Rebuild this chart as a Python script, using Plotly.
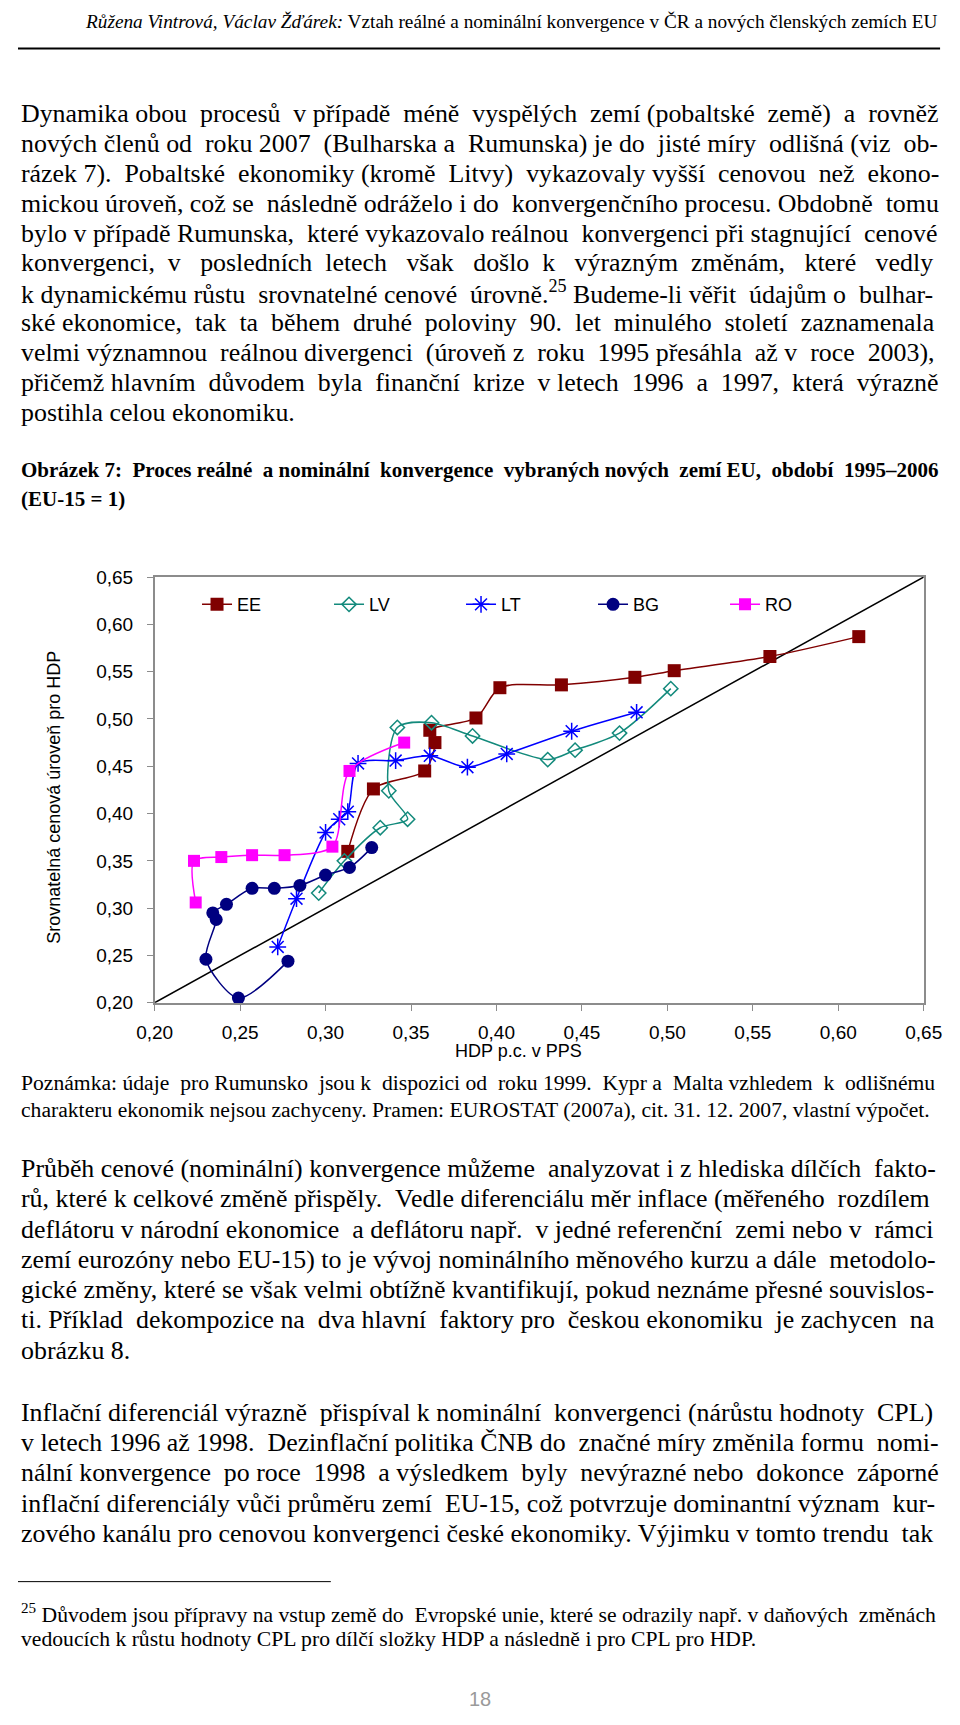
import re
import unicodedata
import plotly.graph_objects as go

# ---------------- chart data ----------------
SERIES = ["EE", "LV", "LT", "BG", "RO"]
EE_X = [0.313, 0.328, 0.358, 0.364, 0.361, 0.388, 0.402, 0.438, 0.481, 0.504, 0.560, 0.612]
EE_Y = [0.360, 0.426, 0.445, 0.475, 0.488, 0.501, 0.533, 0.536, 0.544, 0.551, 0.566, 0.587]
LV_X = [0.296, 0.311, 0.332, 0.348, 0.337, 0.342, 0.362, 0.386, 0.430, 0.446, 0.472, 0.502]
LV_Y = [0.316, 0.350, 0.385, 0.394, 0.424, 0.491, 0.496, 0.482, 0.457, 0.467, 0.485, 0.532]
LT_X = [0.272, 0.283, 0.300, 0.308, 0.313, 0.319, 0.341, 0.361, 0.383, 0.406, 0.444, 0.482]
LT_Y = [0.259, 0.310, 0.380, 0.394, 0.402, 0.453, 0.456, 0.461, 0.449, 0.463, 0.487, 0.507]
BG_X = [0.278, 0.249, 0.230, 0.236, 0.234, 0.242, 0.257, 0.270, 0.285, 0.300, 0.314, 0.327]
BG_Y = [0.244, 0.205, 0.246, 0.288, 0.295, 0.304, 0.321, 0.321, 0.324, 0.335, 0.343, 0.364]
RO_X = [0.224, 0.223, 0.239, 0.257, 0.276, 0.304, 0.314, 0.346]
RO_Y = [0.306, 0.350, 0.354, 0.356, 0.356, 0.365, 0.445, 0.475]
DIAG = [0.20, 0.65]

X_TITLE = "HDP p.c. v PPS"
Y_TITLE = "Srovnatelná cenová úroveň pro HDP"

# ---------------- page text ----------------
HEADER = "<i>Růžena Vintrová, Václav Žďárek:</i> Vztah reálné a nominální konvergence v ČR a nových členských zemích EU"
PARA1 = [
    "Dynamika obou procesů v případě méně vyspělých zemí (pobaltské země) a rovněž",
    "nových členů od roku 2007 (Bulharska a Rumunska) je do jisté míry odlišná (viz ob-",
    "rázek 7). Pobaltské ekonomiky (kromě Litvy) vykazovaly vyšší cenovou než ekono-",
    "mickou úroveň, což se následně odráželo i do konvergenčního procesu. Obdobně tomu",
    "bylo v případě Rumunska, které vykazovalo reálnou konvergenci při stagnující cenové",
    "konvergenci, v posledních letech však došlo k výrazným změnám, které vedly",
    "k dynamickému růstu srovnatelné cenové úrovně.<sup>25</sup> Budeme-li věřit údajům o bulhar-",
    "ské ekonomice, tak ta během druhé poloviny 90. let minulého století zaznamenala",
    "velmi významnou reálnou divergenci (úroveň z roku 1995 přesáhla až v roce 2003),",
    "přičemž hlavním důvodem byla finanční krize v letech 1996 a 1997, která výrazně",
    "postihla celou ekonomiku.",
]
CAPTION = [
    "Obrázek 7: Proces reálné a nominální konvergence vybraných nových zemí EU, období 1995–2006",
    "(EU-15 = 1)",
]
NOTE = [
    "Poznámka: údaje pro Rumunsko jsou k dispozici od roku 1999. Kypr a Malta vzhledem k odlišnému",
    "charakteru ekonomik nejsou zachyceny. Pramen: EUROSTAT (2007a), cit. 31. 12. 2007, vlastní výpočet.",
]
PARA2 = [
    "Průběh cenové (nominální) konvergence můžeme analyzovat i z hlediska dílčích fakto-",
    "rů, které k celkové změně přispěly. Vedle diferenciálu měr inflace (měřeného rozdílem",
    "deflátoru v národní ekonomice a deflátoru např. v jedné referenční zemi nebo v rámci",
    "zemí eurozóny nebo EU-15) to je vývoj nominálního měnového kurzu a dále metodolo-",
    "gické změny, které se však velmi obtížně kvantifikují, pokud neznáme přesné souvislos-",
    "ti. Příklad dekompozice na dva hlavní faktory pro českou ekonomiku je zachycen na",
    "obrázku 8.",
]
PARA3 = [
    "Inflační diferenciál výrazně přispíval k nominální konvergenci (nárůstu hodnoty CPL)",
    "v letech 1996 až 1998. Dezinflační politika ČNB do značné míry změnila formu nomi-",
    "nální konvergence po roce 1998 a výsledkem byly nevýrazné nebo dokonce záporné",
    "inflační diferenciály vůči průměru zemí EU-15, což potvrzuje dominantní význam kur-",
    "zového kanálu pro cenovou konvergenci české ekonomiky. Výjimku v tomto trendu tak",
]
FOOTNOTE = [
    "<sup>25</sup> Důvodem jsou přípravy na vstup země do Evropské unie, které se odrazily např. v daňových změnách",
    "vedoucích k růstu hodnoty CPL pro dílčí složky HDP a následně i pro CPL pro HDP.",
]
PAGE_NO = "18"

# ---------------- text metrics (Times-compatible) ----------------
W_REG = {' ': 250, 'a': 444, 'b': 500, 'c': 444, 'd': 500, 'e': 444, 'f': 333, 'g': 500, 'h': 500,
         'i': 278, 'j': 278, 'k': 500, 'l': 278, 'm': 778, 'n': 500, 'o': 500, 'p': 500, 'q': 500,
         'r': 333, 's': 389, 't': 278, 'u': 500, 'v': 500, 'w': 722, 'x': 500, 'y': 500, 'z': 444,
         'A': 722, 'B': 667, 'C': 667, 'D': 722, 'E': 611, 'F': 556, 'G': 722, 'H': 722, 'I': 333,
         'J': 389, 'K': 722, 'L': 611, 'M': 889, 'N': 722, 'O': 722, 'P': 556, 'Q': 722, 'R': 667,
         'S': 556, 'T': 611, 'U': 722, 'V': 722, 'W': 944, 'X': 722, 'Y': 722, 'Z': 611,
         ',': 250, '.': 250, '(': 333, ')': 333, '-': 333, ':': 278, ';': 278, '=': 564, '–': 500}
W_BOLD = {' ': 250, 'a': 500, 'b': 556, 'c': 444, 'd': 556, 'e': 444, 'f': 333, 'g': 500, 'h': 556,
          'i': 278, 'j': 333, 'k': 556, 'l': 278, 'm': 833, 'n': 556, 'o': 500, 'p': 556, 'q': 556,
          'r': 444, 's': 389, 't': 333, 'u': 556, 'v': 500, 'w': 722, 'x': 500, 'y': 500, 'z': 444,
          'A': 722, 'B': 667, 'C': 722, 'D': 722, 'E': 667, 'F': 611, 'G': 778, 'H': 778, 'I': 389,
          'J': 500, 'K': 778, 'L': 667, 'M': 944, 'N': 722, 'O': 778, 'P': 611, 'Q': 778, 'R': 722,
          'S': 556, 'T': 667, 'U': 722, 'V': 722, 'W': 1000, 'X': 722, 'Y': 722, 'Z': 667,
          ',': 250, '.': 250, '(': 333, ')': 333, '-': 333, ':': 333, ';': 333, '=': 570, '–': 500}
K = 1.04  # rendered glyphs come out slightly wider than the nominal metrics


def char_w(ch, table):
    if ch in table:
        return table[ch]
    base = unicodedata.normalize('NFD', ch)[0]
    if base in table:
        return table[base]
    return 500


def text_em(s, table):
    total = 0.0
    for p in re.split(r'(<sup>.*?</sup>|</?i>|</?b>)', s):
        if p.startswith('<sup>'):
            total += 0.7 * sum(char_w(c, table) for c in p[5:-6])
        elif p.startswith('<'):
            continue
        else:
            total += sum(char_w(c, table) for c in p)
    return K * total / 1000.0


def justify(s, fs, target, table):
    words = s.split(' ')
    gaps = len(words) - 1
    n = int((target - text_em(s, table) * fs) / (K * 0.25 * fs))
    if n <= 0 or gaps == 0:
        return s
    out = words[0]
    for i in range(gaps):
        k = n * (i + 1) // gaps - n * i // gaps
        out += ' ' + '\u00a0' * k + words[i + 1]
    return out


W, H = 960, 1725
LEFT, RIGHT = 1.0, 957.0
TARGET = RIGHT - LEFT


def px(x):
    return x / W


def py(y):
    return 1 - y / H


SERIF = "Liberation Serif, Times New Roman, serif"
SANS = "Liberation Sans, Arial, sans-serif"

annotations = []


def add_line(text, y, fs, table, justified, bold=False, color="black"):
    t = justify(text, fs, TARGET, table) if justified else text
    if bold:
        t = "<b>" + t + "</b>"
    annotations.append(dict(text=t, x=px(LEFT), y=py(y), xref="paper", yref="paper",
                            xanchor="left", yanchor="middle", showarrow=False,
                            font=dict(family=SERIF, size=fs, color=color)))


body_lines = PARA1[:-1] + PARA2[:-1] + PARA3
fs_body = min(27.0, (TARGET - 4) / max(text_em(s, W_REG) for s in body_lines))

for i, s in enumerate(PARA1):
    add_line(s, 105 + 30.2 * i, fs_body, W_REG, i < len(PARA1) - 1)
for i, s in enumerate(PARA2):
    add_line(s, 1173 + 30.6 * i, fs_body, W_REG, i < len(PARA2) - 1)
for i, s in enumerate(PARA3):
    add_line(s, 1420 + 30.5 * i, fs_body, W_REG, True)

fs_cap = min(21.0, (TARGET - 4) / text_em(CAPTION[0], W_BOLD))
add_line(CAPTION[0], 466, fs_cap, W_BOLD, True, bold=True)
add_line(CAPTION[1], 495, fs_cap, W_BOLD, False, bold=True)

fs_note = (TARGET - 4) / text_em(NOTE[1], W_REG)
add_line(NOTE[0], 1086, fs_note, W_REG, True)
add_line(NOTE[1], 1114, fs_note, W_REG, False)

fs_fn = 770 / text_em(FOOTNOTE[1], W_REG)
add_line(FOOTNOTE[0], 1623, fs_fn, W_REG, True)
add_line(FOOTNOTE[1], 1649, fs_fn, W_REG, False)

fs_head = 890 / text_em(HEADER, W_REG)
annotations.append(dict(text=HEADER, x=px(957), y=py(12), xref="paper", yref="paper",
                        xanchor="right", yanchor="middle", showarrow=False,
                        font=dict(family=SERIF, size=fs_head, color="black")))

annotations.append(dict(text=PAGE_NO, x=px(480), y=py(1710), xref="paper", yref="paper",
                        xanchor="center", yanchor="middle", showarrow=False,
                        font=dict(family=SANS, size=20, color="#9a9a9a")))

annotations.append(dict(text=X_TITLE, x=px(520), y=py(1054), xref="paper", yref="paper",
                        xanchor="center", yanchor="middle", showarrow=False,
                        font=dict(family=SANS, size=18, color="black")))
annotations.append(dict(text=Y_TITLE, x=px(38), y=py(797), xref="paper", yref="paper",
                        xanchor="center", yanchor="middle", showarrow=False, textangle=-90,
                        font=dict(family=SANS, size=18, color="black")))

# ---------------- figure ----------------
fig = go.Figure()
fig.add_trace(go.Scatter(x=DIAG, y=DIAG, mode="lines", line=dict(color="black", width=1.5),
                         showlegend=False, hoverinfo="skip", cliponaxis=False))

styles = {
    "EE": dict(color="#800000", marker=dict(symbol="square", size=13, color="#800000")),
    "LV": dict(color="#138a7c", marker=dict(symbol="diamond-open", size=11, color="#138a7c",
                                             line=dict(width=1.5))),
    "LT": dict(color="#0000ff", marker=dict(symbol="asterisk-open", size=14, color="#0000ff",
                                             line=dict(width=1.5))),
    "BG": dict(color="#000080", marker=dict(symbol="circle", size=13, color="#000080")),
    "RO": dict(color="#ff00ff", marker=dict(symbol="square", size=12, color="#ff00ff")),
}
data = {"EE": (EE_X, EE_Y), "LV": (LV_X, LV_Y), "LT": (LT_X, LT_Y),
        "BG": (BG_X, BG_Y), "RO": (RO_X, RO_Y)}

for name in SERIES:
    xs, ys = data[name]
    st = styles[name]
    fig.add_trace(go.Scatter(x=xs, y=ys, name=name, mode="lines+markers",
                             line=dict(color=st["color"], width=1.5, shape="spline", smoothing=0.8),
                             marker=st["marker"], cliponaxis=False))

axis_common = dict(range=[0.2, 0.65], tick0=0.2, dtick=0.05, tickformat=".2f",
                   showgrid=False, zeroline=False, showline=True, linecolor="#8c8c8c",
                   linewidth=1.5, mirror=True, ticks="outside", ticklen=6, tickcolor="#8c8c8c",
                   tickfont=dict(family=SANS, size=19, color="black"))

fig.update_layout(
    width=W, height=H,
    margin=dict(l=0, r=0, t=0, b=0),
    paper_bgcolor="white", plot_bgcolor="white",
    separators=", ",
    font=dict(family=SANS, size=18, color="black"),
    xaxis=dict(domain=[px(142), px(941)], ticklabelstandoff=6, **axis_common),
    yaxis=dict(domain=[py(1005), py(574)], ticklabelstandoff=10, **axis_common),
    legend=dict(orientation="h", x=px(186), y=py(602), xanchor="left", yanchor="middle",
                entrywidth=87, entrywidthmode="pixels", bgcolor="rgba(0,0,0,0)",
                font=dict(family=SANS, size=18, color="black")),
    annotations=annotations,
    shapes=[
        dict(type="line", xref="paper", yref="paper", x0=px(0), x1=px(958), y0=py(39), y1=py(39),
             line=dict(color="black", width=2)),
        dict(type="line", xref="paper", yref="paper", x0=px(0), x1=px(325), y0=py(1591), y1=py(1591),
             line=dict(color="black", width=1)),
    ],
    showlegend=True,
)

fig.write_html("out.html", config={"displayModeBar": False},
               post_script="document.body.style.margin='0';document.body.style.padding='0';")
